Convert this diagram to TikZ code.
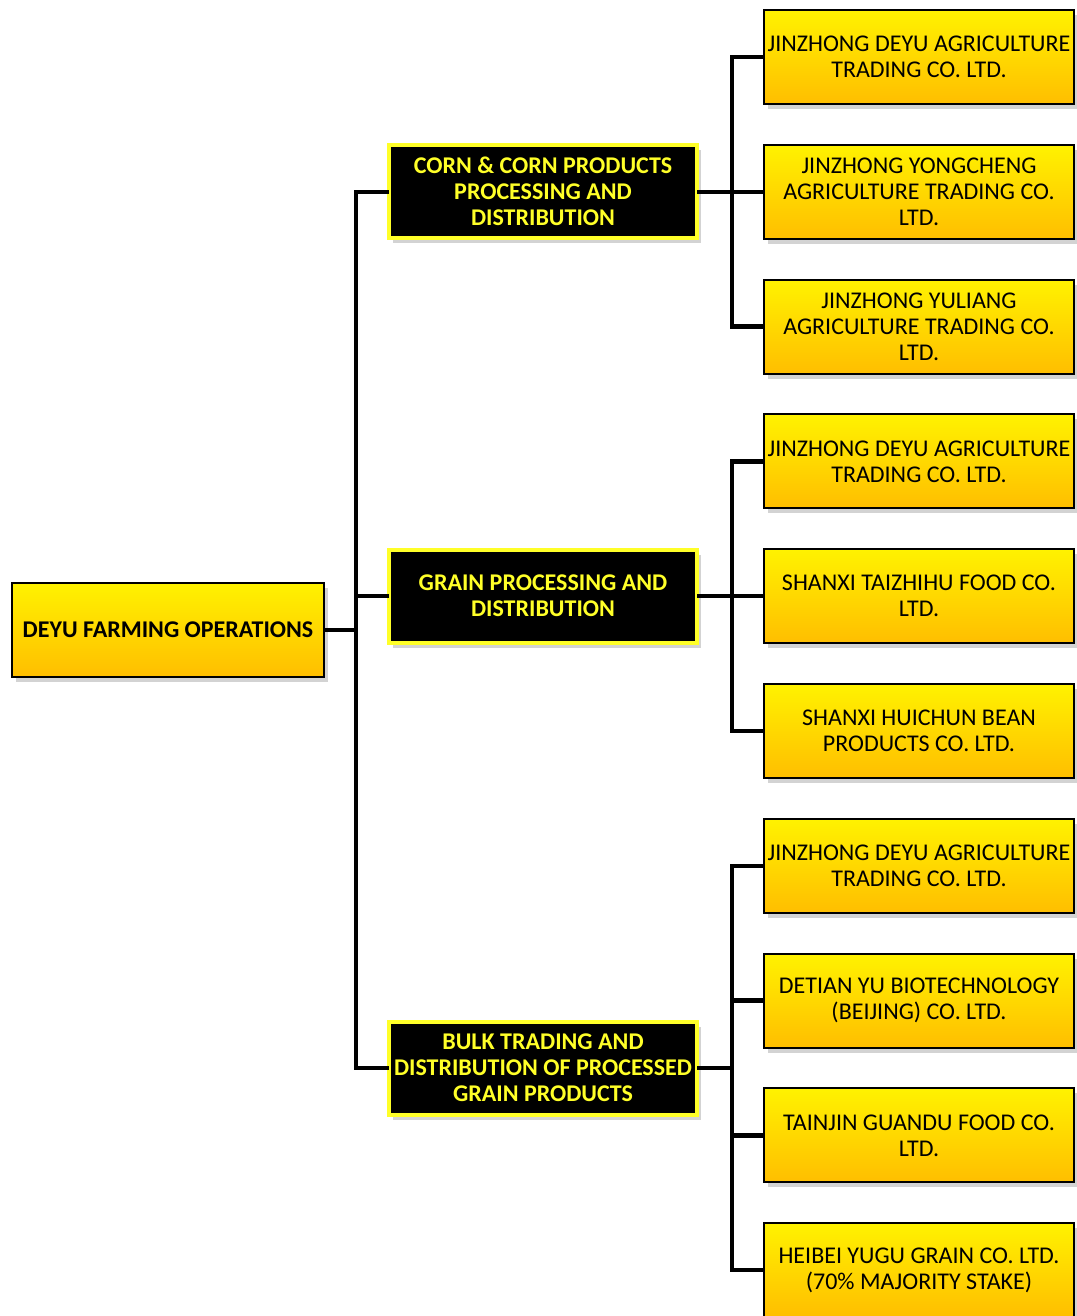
\documentclass[tikz,border=0pt]{standalone}
\usepackage{fontspec}
\setmainfont{Carlito}
\usetikzlibrary{positioning, calc, shadows}
\definecolor{goldtop}{RGB}{255,242,0}
\definecolor{goldbot}{RGB}{255,190,0}
\definecolor{hiyel}{RGB}{255,255,40}

\begin{document}
\begin{tikzpicture}[
        x=0.5pt, y=-0.5pt,
        font=\fontsize{12}{13}\selectfont, node distance=19.4pt,
        firm/.style={draw, line width=1pt, top color=goldtop, bottom color=goldbot,
            minimum width=155pt, minimum height=47pt, align=center, inner sep=1pt,
            drop shadow={opacity=0.35, shadow xshift=2pt, shadow yshift=-2.5pt}},
        unit/.style={draw=hiyel, line width=2pt, fill=black, text=hiyel, font=\fontsize{12}{13}\selectfont\bfseries,
            minimum width=154pt, minimum height=46.5pt, align=center, inner sep=1pt,
            drop shadow={opacity=0.35, shadow xshift=2pt, shadow yshift=-2.5pt}},
        link/.style={line width=2.2pt, black, line cap=rect}
    ]
        \useasboundingbox (0,0) rectangle (1076,1316);

        % subsidiaries
        \node[firm] (c1) at (919,57) {JINZHONG DEYU AGRICULTURE\\TRADING CO. LTD.};
        \node[firm, below=of c1]  (c2)  {JINZHONG YONGCHENG\\AGRICULTURE TRADING CO.\\LTD.};
        \node[firm, below=of c2]  (c3)  {JINZHONG YULIANG\\AGRICULTURE TRADING CO.\\LTD.};
        \node[firm, below=of c3]  (g1)  {JINZHONG DEYU AGRICULTURE\\TRADING CO. LTD.};
        \node[firm, below=of g1]  (g2)  {SHANXI TAIZHIHU FOOD CO.\\LTD.};
        \node[firm, below=of g2]  (g3)  {SHANXI HUICHUN BEAN\\PRODUCTS CO. LTD.};
        \node[firm, below=of g3]  (b1)  {JINZHONG DEYU AGRICULTURE\\TRADING CO. LTD.};
        \node[firm, below=of b1]  (b2)  {DETIAN YU BIOTECHNOLOGY\\(BEIJING) CO. LTD.};
        \node[firm, below=of b2]  (b3)  {TAINJIN GUANDU FOOD CO.\\LTD.};
        \node[firm, below=of b3]  (b4)  {HEIBEI YUGU GRAIN CO. LTD.\\(70\% MAJORITY STAKE)};

        % business lines
        \node[unit, left=32pt of c2] (corn)  {CORN \& CORN PRODUCTS\\PROCESSING AND\\DISTRIBUTION};
        \node[unit, left=32pt of g2] (grain) {GRAIN PROCESSING AND\\DISTRIBUTION};
        \coordinate (bm) at ($(b2)!0.5!(b3)$);
        \node[unit] (bulk) at (bm -| corn) {BULK TRADING AND\\DISTRIBUTION OF PROCESSED\\GRAIN PRODUCTS};

        \node[firm, font=\fontsize{12}{13}\selectfont\bfseries, minimum width=156pt] (root) at (168,630) {DEYU FARMING OPERATIONS};

        \coordinate (sp) at (356,0);
        \coordinate (rb) at (732,0);

        % root to business lines
        \draw[link] (root.east) -- (root.east -| sp);
        \draw[link] (corn.west) -- (corn.west -| sp) -- (bulk.west -| sp) -- (bulk.west);
        \draw[link] (grain.west) -- (grain.west -| sp);

        % business lines to subsidiaries
        \draw[link] (corn.east) -- (corn.east -| rb);
        \draw[link] (c1.west) -- (c1.west -| rb) -- (c3.west -| rb) -- (c3.west);
        \draw[link] (c2.west) -- (c2.west -| rb);
        \draw[link] (grain.east) -- (grain.east -| rb);
        \draw[link] (g1.west) -- (g1.west -| rb) -- (g3.west -| rb) -- (g3.west);
        \draw[link] (g2.west) -- (g2.west -| rb);
        \draw[link] (bulk.east) -- (bulk.east -| rb);
        \draw[link] (b1.west) -- (b1.west -| rb) -- (b4.west -| rb) -- (b4.west);
        \draw[link] (b2.west) -- (b2.west -| rb);
        \draw[link] (b3.west) -- (b3.west -| rb);
    \end{tikzpicture}
\end{document}
